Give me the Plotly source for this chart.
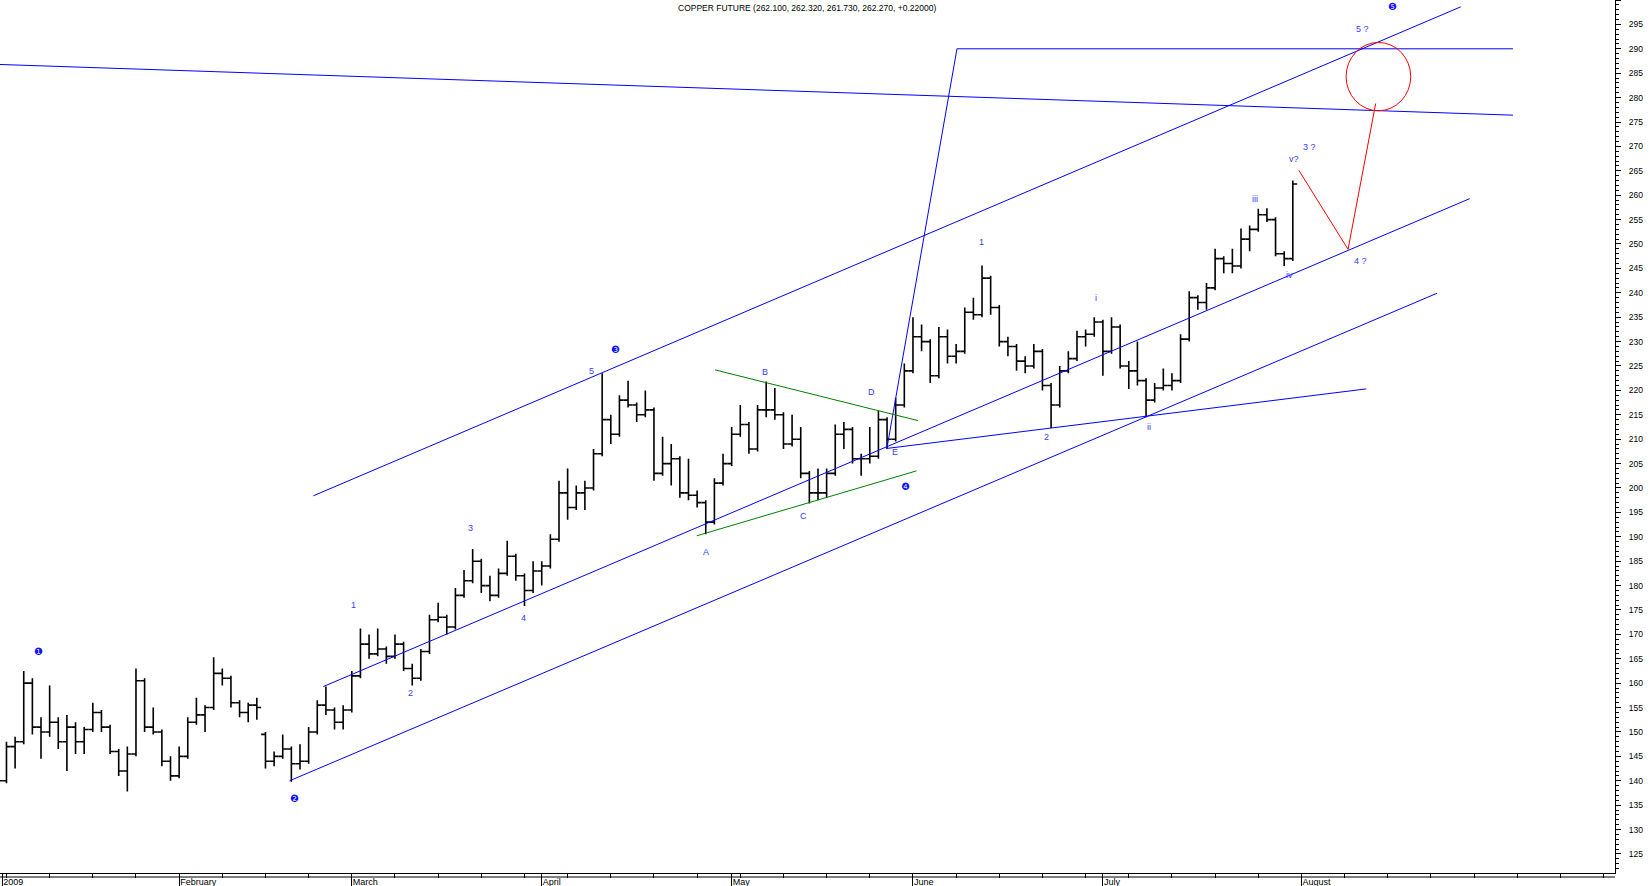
import pandas as pd
import plotly.graph_objects as go

# Barras diarias (apertura, maximo, minimo, cierre), 2 ene 2009 - 31 jul 2009
aperturas = [139, 140, 147, 148, 160, 151, 150, 152, 148, 151,
             148, 150.5, 154, 151, 146, 142, 145.5, 160.5, 151, 150,
             144, 141, 145, 152, 153.5, 155, 162, 161, 156, 154,
             155.5, 149.5, 144, 145, 146.5, 143.5, 144, 150, 155.5, 154.5,
             152, 154.5, 161.5, 168, 166, 167, 165.5, 168, 163, 161,
             166.5, 173, 173.5, 171.5, 178, 181, 185, 180, 178, 182.5,
             186, 182, 179, 183, 184, 189.5, 199, 196, 199, 200,
             207, 214, 211, 218, 217, 215, 216, 203, 205, 206,
             199, 198.5, 197, 193, 201, 205, 211, 213, 208, 216,
             216, 215, 209, 210, 203, 199, 199, 203, 211, 212,
             206, 206, 206.5, 214, 210, 217, 224, 231, 230, 223,
             231, 227, 228, 236, 235.5, 243, 237, 230, 229, 226,
             225, 228, 221, 217, 224, 226.5, 231, 231.5, 234, 228,
             233, 225, 224, 222, 218, 220.5, 221, 222, 230.5, 239,
             238, 241, 247, 246, 245.5, 251, 253, 256, 255, 248,
             247]
maximos = [141, 148, 149, 162.5, 161, 153, 159.5, 153, 153.5, 152,
           151, 156, 154.5, 151.5, 146.5, 147, 163, 161, 155, 150.5,
           145, 147, 153, 157, 155.5, 165.3, 163, 161.5, 156.5, 156,
           157, 150, 146, 149.5, 147, 147.5, 151, 156.5, 159.3, 155,
           155.5, 162.5, 171.2, 170, 171.2, 167.5, 170, 168.5, 164, 167,
           174, 176.5, 174, 179.5, 183.2, 187.5, 185.5, 182, 183.5, 189.2,
           186.5, 182.5, 185, 185, 190.5, 201.5, 204, 200.5, 201.5, 208,
           223.5, 215, 219, 222, 217.5, 220, 216.5, 210.5, 209, 206.5,
           206, 199.5, 197.5, 202, 207, 212.5, 217, 213.5, 217, 221.8,
           220.5, 215.5, 215, 212.5, 203.5, 204, 204, 213, 213.5, 212.5,
           207, 212.5, 215.8, 214.5, 218.5, 225.5, 235, 233.5, 230.5, 233,
           232.5, 229.5, 237, 239, 245.6, 243.5, 237.5, 231, 229.5, 227,
           229.5, 228.5, 221.5, 225, 228, 232.2, 232.5, 235, 234.5, 235,
           233.5, 226, 230, 222.5, 221.5, 224.5, 223.5, 231.5, 240.3, 239.5,
           242, 249, 247.5, 249, 253.2, 253.8, 257.2, 257.3, 255.5, 248.5,
           263]
minimos = [137.5, 139.5, 142.5, 147.5, 149.5, 144.5, 149, 146.5, 142, 145.5,
           145.5, 150, 150, 145.5, 141, 137.8, 145, 150, 149.5, 143,
           140, 140.5, 144.5, 151.5, 150, 154.5, 159.5, 155, 153, 152,
           152.5, 142.5, 143, 144.5, 139.8, 142.3, 143.5, 149.5, 153.5, 150.5,
           150.5, 154, 161, 165, 165.5, 164, 165, 162.5, 159.5, 160.5,
           166, 172.5, 170, 171, 177.5, 180.5, 178.5, 176.8, 177.5, 182,
           181, 175.8, 178.5, 180, 183.5, 189, 193.5, 195.5, 195.5, 199.5,
           206.5, 209, 210.5, 216.5, 213.5, 214.5, 201.5, 202.5, 200.5, 198,
           197.5, 196, 190.5, 192.5, 200.5, 204.5, 210.5, 207, 207.5, 214.5,
           214, 208, 208.5, 202, 196.8, 197.5, 198, 202.5, 208, 205,
           202.5, 205, 206, 208, 209.5, 216.5, 223.5, 228, 221.5, 222.5,
           225.5, 225.5, 227.5, 234.5, 235, 235.5, 229, 227, 224, 223.5,
           224.5, 220, 212.3, 216.5, 223.5, 226, 229, 231, 223, 227.5,
           224.5, 220.3, 221, 214.5, 217.5, 220, 220, 221.5, 230, 236.5,
           236.5, 240.5, 244, 244, 245, 248.5, 252.5, 254.5, 247.5, 245.5,
           246.5]
cierres = [140, 147, 148, 160, 151, 150, 152, 148, 151, 148,
           150.5, 154, 151, 146, 142, 145.5, 160.5, 151, 150, 144,
           141, 145, 152, 153.5, 155, 162, 161, 156, 154, 155.5,
           155, 144, 145, 146.5, 143.5, 144, 150, 155.5, 154.5, 152,
           154.5, 161.5, 168, 166, 167, 165.5, 168, 163, 161, 166.5,
           173, 173.5, 171.5, 178, 181, 185, 180, 178, 182.5, 186,
           182, 179, 183, 184, 189.5, 199, 196, 199, 200, 207,
           214, 211, 218, 217, 215, 216, 203, 205, 206, 199,
           198.5, 197, 193, 201, 205, 211, 213, 208, 216, 216,
           215, 209, 210, 203, 199, 199, 203, 211, 212, 206,
           206, 206.5, 214, 210, 217, 224, 231, 230, 223, 231,
           227, 228, 236, 235.5, 243, 237, 230, 229, 226, 225,
           228, 221, 217, 224, 226.5, 231, 231.5, 234, 228, 233,
           225, 224, 222, 218, 220.5, 221, 222, 230.5, 239, 238,
           241, 247, 246, 245.5, 251, 253, 256, 255, 248, 247,
           262.3]

# Lineas de tendencia: (dia habil desde el 2 ene, precio)
canal_sup = [(36.55, 198.4), (169.45, 298.6)]
canal_med = [(37.7, 159.3), (170.5, 259.3)]
canal_inf = [(33.8, 140.0), (166.7, 239.9)]
linea_bajista = [(0.0, 286.8), (175.5, 276.4)]
linea_objetivo = [(103.0, 208.3), (111.1, 290.0), (175.5, 290.0)]
abanico = [(102.96, 208.1), (158.5, 220.3)]
triangulo_sup = [(83.07, 224.2), (106.6, 213.8)]
triangulo_inf = [(80.96, 190.2), (106.4, 203.5)]
proyeccion = [(150.7, 265.1), (156.4, 248.9), (159.6, 278.8)]
circulo_obj = [(156.17, 277.3), (163.66, 291.3)]

# Conteo de ondas
ondas = [("1", 41.18, 176.0), ("2", 47.83, 158.0), ("3", 54.78, 191.7),
         ("4", 60.87, 173.3), ("5", 68.79, 224.0), ("A", 82.03, 186.9),
         ("B", 88.87, 223.8), ("C", 93.3, 194.2), ("D", 101.23, 219.6),
         ("E", 103.93, 207.3), ("1", 113.89, 250.5), ("2", 121.5, 210.5),
         ("i", 127.21, 238.9), ("ii", 133.35, 212.5), ("iii", 145.63, 259.2),
         ("iv", 149.6, 243.6), ("v?", 150.15, 267.4), ("3 ?", 151.92, 269.8),
         ("4 ?", 157.87, 246.6), ("5 ?", 158.06, 294.0)]
ondas_mayores = [("❶", 4.69, 166.4), ("❷", 34.42, 136.3), ("❸", 71.5, 228.3),
                 ("❹", 105.17, 200.3), ("❺", 161.53, 298.7)]

meses = ["2009", "February", "March", "April", "May", "June", "July", "August"]
inicio_mes = [0.5, 21, 41, 63, 85, 106, 128, 151]

dias = pd.bdate_range("2009-01-02", periods=200)


def fecha(k):
    i = int(k)
    return dias[i] + pd.Timedelta(hours=24 * (k - i))


fig = go.Figure()

fig.add_trace(go.Ohlc(
    x=dias[:len(cierres)], open=aperturas, high=maximos, low=minimos, close=cierres,
    increasing=dict(line=dict(color="black", width=1.6)),
    decreasing=dict(line=dict(color="black", width=1.6)),
    tickwidth=0.5, hoverinfo="skip", showlegend=False
))


def linea(puntos, color):
    fig.add_trace(go.Scatter(
        x=[fecha(k) for k, p in puntos], y=[p for k, p in puntos],
        mode="lines", line=dict(color=color, width=1),
        hoverinfo="skip", showlegend=False
    ))


for pts in [canal_sup, canal_med, canal_inf, linea_bajista, linea_objetivo, abanico]:
    linea(pts, "#0000ff")
linea(triangulo_sup, "#008000")
linea(triangulo_inf, "#008000")
linea(proyeccion, "#ff0000")

fig.add_shape(type="circle", xref="x", yref="y",
              x0=fecha(circulo_obj[0][0]), x1=fecha(circulo_obj[1][0]),
              y0=circulo_obj[0][1], y1=circulo_obj[1][1],
              line=dict(color="#ff0000", width=1))

# segunda linea del eje de fechas
fig.add_shape(type="line", xref="paper", yref="paper", x0=0, x1=1,
              y0=-4 / 873, y1=-4 / 873, line=dict(color="black", width=1))

for txt, k, p in ondas:
    fig.add_annotation(x=fecha(k), y=p, text=txt, showarrow=False,
                       font=dict(family="Liberation Sans", size=9, color="#3a3aff"))
for txt, k, p in ondas_mayores:
    fig.add_annotation(x=fecha(k), y=p, text=txt, showarrow=False,
                       font=dict(family="DejaVu Sans", size=10, color="#1010ff"))

fig.add_annotation(xref="paper", yref="paper", x=0.4995, y=1, yanchor="top",
                   yshift=-1, showarrow=False,
                   text="COPPER FUTURE (262.100, 262.320, 261.730, 262.270, +0.22000)",
                   font=dict(family="Liberation Sans", size=8.5, color="black"))

lunes = pd.date_range("2009-01-05", "2009-09-21", freq="W-MON")

fig.update_layout(
    width=1650, height=886,
    margin=dict(l=0, r=35, t=0, b=13),
    paper_bgcolor="white", plot_bgcolor="white",
    font=dict(family="Liberation Sans", size=9, color="black"),
    xaxis=dict(
        type="date", range=[fecha(0.25), fecha(187.32)],
        rangebreaks=[dict(bounds=["sat", "mon"])],
        rangeslider=dict(visible=False),
        tickvals=[fecha(k) for k in inicio_mes], ticktext=meses,
        ticks="outside", ticklen=13, tickcolor="black",
        ticklabelposition="outside right",
        showline=True, linecolor="black", linewidth=1,
        showgrid=False, zeroline=False,
        tickfont=dict(size=9),
        minor=dict(tickvals=list(lunes), ticks="outside", ticklen=4, tickcolor="black")
    ),
    yaxis=dict(
        side="right", range=[121.1, 300], tick0=125, dtick=5,
        ticks="outside", ticklen=5, tickcolor="black",
        showline=True, linecolor="black", linewidth=1,
        showgrid=False, zeroline=False,
        tickfont=dict(size=8.5), ticklabelstandoff=6,
        minor=dict(dtick=1, ticks="outside", ticklen=2.5, tickcolor="black")
    )
)

fig.write_html("out.html", config={"displayModeBar": False},
               post_script="document.body.style.margin='0';document.body.style.overflow='hidden';")
